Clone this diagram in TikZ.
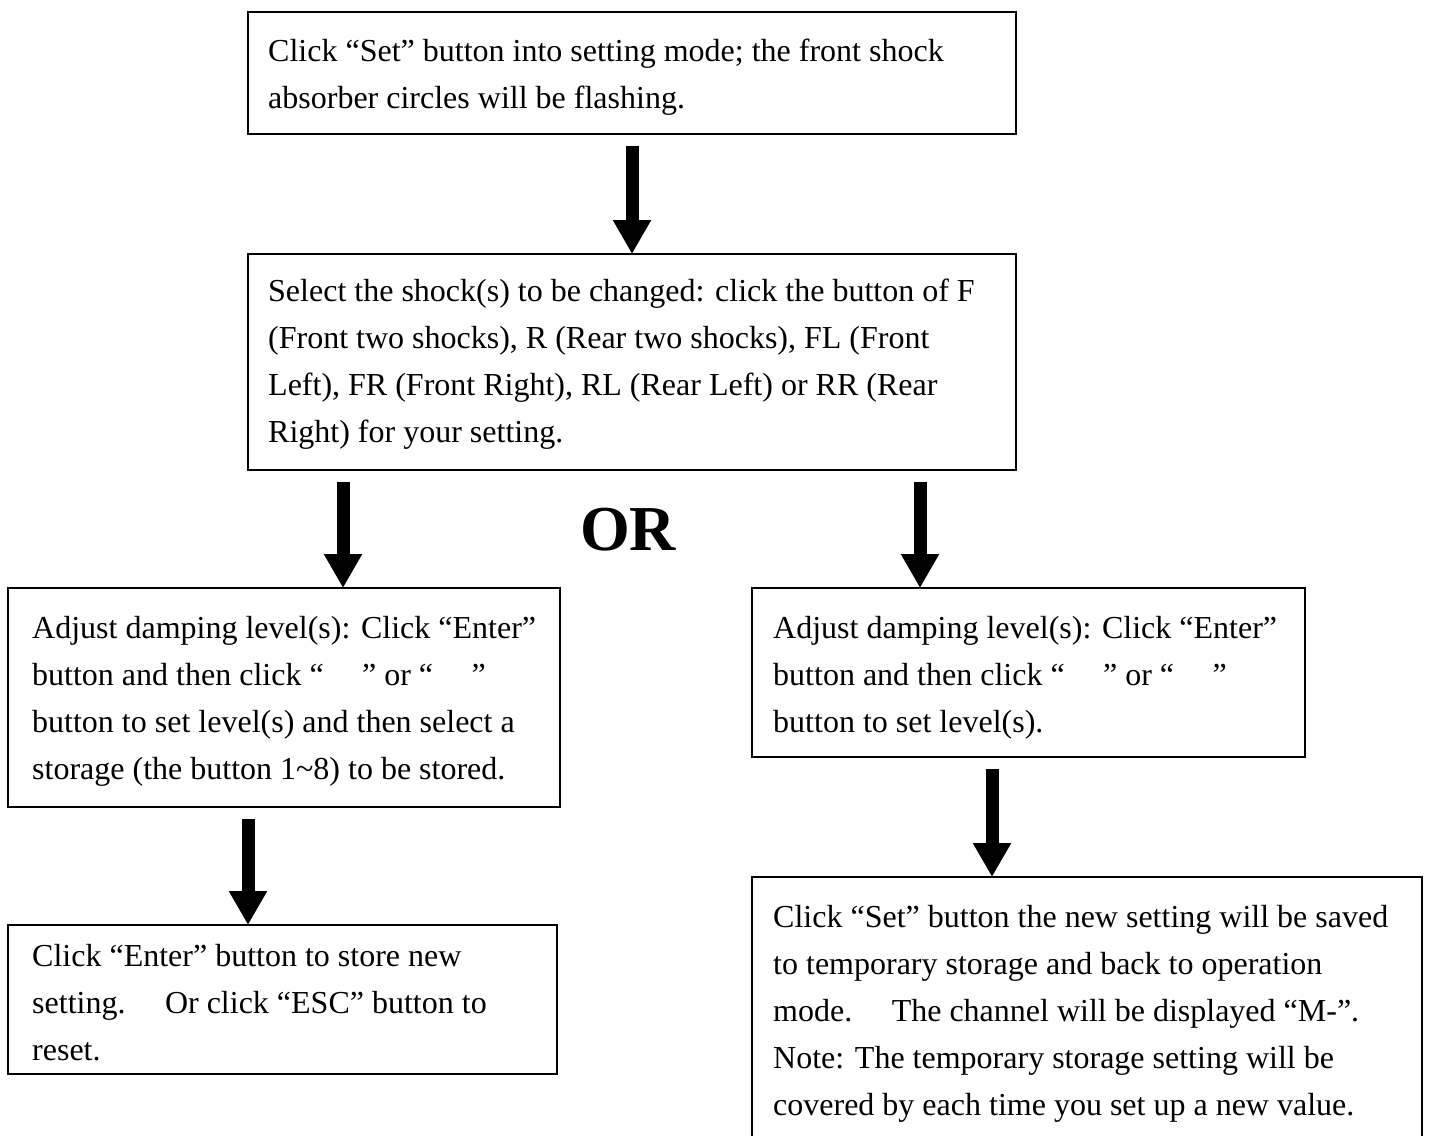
\documentclass[tikz,border=0pt]{standalone}
\usepackage{fontspec}
\setmainfont{Liberation Serif}
\usetikzlibrary{arrows.meta}
\begin{document}
\begin{tikzpicture}[x=1pt,y=-1pt,
  box/.style={draw, line width=2pt, inner sep=0pt, outer sep=0pt, anchor=north west},
  txt/.style={anchor=base west, align=left, inner sep=0pt, font=\fontsize{32}{47}\selectfont},
  arr/.style={line width=13pt, -{Triangle[width=36pt,length=34pt]}, shorten <=12pt}]
\clip (0,0) rectangle (1429,1135);
\fill[white] (0,0) rectangle (1429,1135);
% boxes
\node[box, minimum width=768pt, minimum height=122pt] (b1) at (248,12) {};
\node[box, minimum width=768pt, minimum height=216pt] (b2) at (248,254) {};
\node[box, minimum width=552pt, minimum height=219pt] (b3) at (8,588) {};
\node[box, minimum width=553pt, minimum height=169pt] (b4) at (752,588) {};
\node[box, minimum width=549pt, minimum height=149pt] (b5) at (8,925) {};
\node[box, minimum width=670pt, minimum height=300pt] (b6) at (752,877) {};
% texts (anchored at the baseline of the last line)
\node[txt] (t1) at (268,108) {Click “Set” button into setting mode; the front shock\\absorber circles will be flashing.};
\node[txt] (t2) at (268,442) {Select the shock(s) to be changed: click the button of F\\(Front two shocks), R (Rear two shocks), FL (Front\\Left), FR (Front Right), RL (Rear Left) or RR (Rear\\Right) for your setting.};
\node[txt] (t3) at (32,779) {Adjust damping level(s): Click “Enter”\\button and then click “\hspace{1.2em}” or “\hspace{1.2em}”\\button to set level(s) and then select a\\storage (the button 1\textasciitilde 8) to be stored.};
\node[txt] (t4) at (773,732) {Adjust damping level(s): Click “Enter”\\button and then click “\hspace{1.2em}” or “\hspace{1.2em}”\\button to set level(s).};
\node[txt] (t5) at (32,1060) {Click “Enter” button to store new\\setting.\hspace{0.9em} Or click “ESC” button to\\reset.};
\node[txt] (t6) at (773,1115) {Click “Set” button the new setting will be saved\\to temporary storage and back to operation\\mode.\hspace{0.9em} The channel will be displayed “M-”.\\Note: The temporary storage setting will be\\covered by each time you set up a new value.};
\node[font=\fontsize{64}{70}\selectfont\bfseries, inner sep=0pt] (or) at (628,530) {OR};
% arrow x positions
\coordinate (x1) at (632,0);
\coordinate (x2) at (343,0);
\coordinate (x3) at (920,0);
\coordinate (x4) at (248,0);
\coordinate (x5) at (992,0);
\draw[arr] (b1.south -| x1) -- (b2.north -| x1);
\draw[arr] (b2.south -| x2) -- (b3.north -| x2);
\draw[arr] (b2.south -| x3) -- (b4.north -| x3);
\draw[arr] (b3.south -| x4) -- (b5.north -| x4);
\draw[arr] (b4.south -| x5) -- (b6.north -| x5);
\end{tikzpicture}
\end{document}
